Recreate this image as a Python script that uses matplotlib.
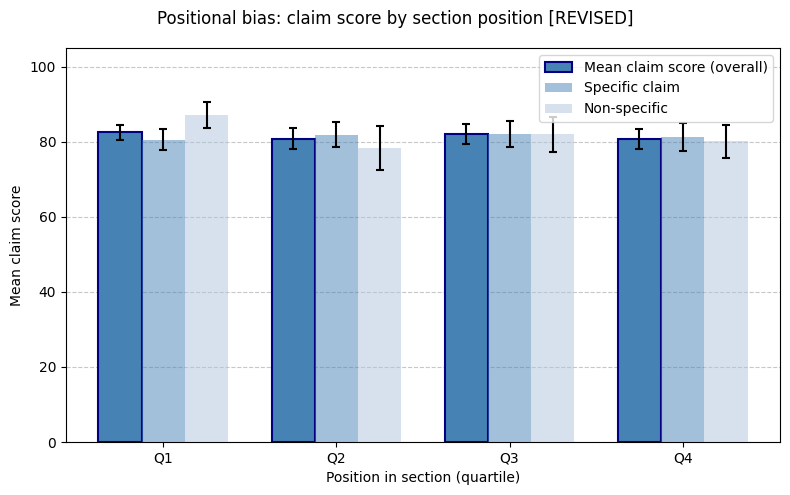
import matplotlib
matplotlib.use("Agg")
import matplotlib.pyplot as plt
import numpy as np

categories = ["Q1", "Q2", "Q3", "Q4"]
overall = [82.6, 80.8, 82.1, 80.7]
overall_err = [2.0, 2.8, 2.6, 2.7]
specific = [80.5, 81.9, 82.1, 81.2]
specific_err = [2.8, 3.3, 3.5, 3.7]
nonspecific = [87.2, 78.3, 82.0, 80.2]
nonspecific_err = [3.5, 5.9, 4.6, 4.4]

fig, ax = plt.subplots(figsize=(7.9, 4.95), dpi=100)
x = np.arange(len(categories))
w = 0.25
ekw = dict(ecolor="black", elinewidth=1.5, capsize=3, capthick=1.5)
ax.bar(x - w, overall, w, yerr=overall_err, color="steelblue", edgecolor="navy",
       linewidth=1.5, label="Mean claim score (overall)", error_kw=ekw, zorder=3)
ax.bar(x, specific, w, yerr=specific_err, color="steelblue", alpha=0.5,
       label="Specific claim", error_kw=ekw, zorder=3)
ax.bar(x + w, nonspecific, w, yerr=nonspecific_err, color="lightsteelblue", alpha=0.5,
       label="Non-specific", error_kw=ekw, zorder=3)

ax.set_xticks(x)
ax.set_xticklabels(categories)
ax.set_ylim(0, 105)
ax.set_xlabel("Position in section (quartile)")
ax.set_ylabel("Mean claim score")
ax.yaxis.grid(True, linestyle="--", alpha=0.7, zorder=0)
ax.set_axisbelow(True)
ax.legend(loc="upper right")
fig.suptitle("Positional bias: claim score by section position [REVISED]", fontsize=12, y=0.98)
fig.subplots_adjust(left=66/790, right=780/790, top=1-48/495, bottom=1-442/495)
fig.savefig("out.png", dpi=100)
